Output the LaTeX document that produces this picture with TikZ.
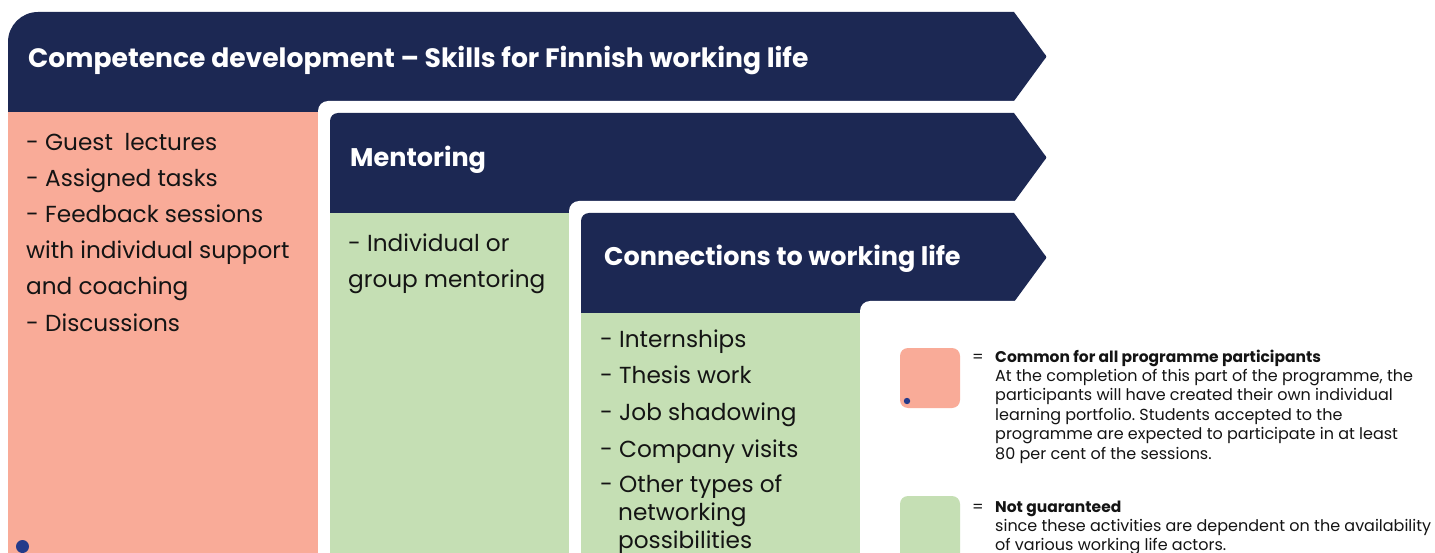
\documentclass[tikz,border=0pt]{standalone}
\usepackage{fontspec}
\setmainfont{Poppins}
\frenchspacing
\definecolor{navy}{RGB}{28,40,83}
\definecolor{salmon}{RGB}{249,171,152}
\definecolor{sage}{RGB}{197,223,180}
\definecolor{dotblue}{RGB}{36,58,138}
\definecolor{ink}{RGB}{20,20,20}
\begin{document}
\begin{tikzpicture}[x=1pt, y=-1pt,
  head/.style={anchor=base west, inner sep=0, text=white, font=\fontsize{26}{30}\selectfont\bfseries},
  item/.style={anchor=base west, inner sep=0, text=ink, font=\fontsize{23.2}{27}\selectfont},
  note/.style={anchor=base west, inner sep=0, text=ink, font=\fontsize{16}{19}\selectfont},
  key/.style={rounded corners=8pt}]

\useasboundingbox (0,0) rectangle (1435,553);
\clip (0,0) rectangle (1435,553);

\foreach \L/\T/\r/\R/\col in {8/12/30/330/salmon, 330/113/8/581/sage, 581/213/8/872/sage} {
  \fill[white, rounded corners=10pt] (\L-12,\T-12) rectangle (1500,600);
  \fill[navy] (\L,600) -- (\L,\T+\r) .. controls (\L,\T+0.448*\r) and (\L+0.448*\r,\T) .. (\L+\r,\T)
    -- (1014,\T) -- (1044,\T+41) .. controls (1047,\T+44.5) .. (1044,\T+48) -- (1014,\T+89)
    -- (\R,\T+89) -- (\R,600) -- cycle;
  \fill[\col] (\L,\T+100) rectangle (\R,600);
}
\fill[white, rounded corners=10pt] (860,301) rectangle (1500,600);

\fill[dotblue] (22.5,546.5) circle (6.5);

\node[head, font=\fontsize{26.6}{30}\selectfont\bfseries] (title) at (28,68) {Competence development – Skills for Finnish working life};
\node[head, font=\fontsize{25.5}{30}\selectfont\bfseries] (mentoring) at (350,167) {Mentoring};
\node[head, font=\fontsize{25.5}{30}\selectfont\bfseries] (connections) at (604,266) {Connections to working life};

\foreach \txt [count=\i] in {- Guest\enspace lectures, - Assigned tasks, - Feedback sessions,
    with individual support, and coaching, - Discussions}
  \node[item] (dev-\i) at (26,151+36*\i-36) {\txt};

\node[item] (mentor-1) at (348,252) {- Individual or};
\node[item] (mentor-2) at (348,288) {group mentoring};

\foreach \x/\y/\txt [count=\i] in {600/347/- Internships, 600/383/- Thesis work, 600/420/- Job shadowing,
    600/457/- Company visits, 600/492/- Other types of, 618/520/networking, 618/548/possibilities}
  \node[item] (conn-\i) at (\x,\y) {\txt};

\fill[salmon, key] (900,348) rectangle (960,408);
\fill[dotblue] (907,401) circle (3.2);
\node[note] (eq-1) at (972,362) {=};
\node[note, font=\fontsize{15.5}{19}\selectfont\bfseries] (common) at (995,362) {Common for all programme participants};
\foreach \txt [count=\i] in {{At the completion of this part of the programme, the},
    participants will have created their own individual,
    learning portfolio. Students accepted to the,
    programme are expected to participate in at least,
    80 per cent of the sessions.}
  \node[note] (common-\i) at (995,362+19.4*\i) {\txt};

\fill[sage, key] (900,496) rectangle (960,570);
\node[note] (eq-2) at (972,512) {=};
\node[note, font=\fontsize{15.5}{19}\selectfont\bfseries] (notg) at (995,512) {Not guaranteed};
\node[note] (notg-1) at (995,531) {since these activities are dependent on the availability};
\node[note] (notg-2) at (995,550) {of various working life actors.};

\end{tikzpicture}
\end{document}
